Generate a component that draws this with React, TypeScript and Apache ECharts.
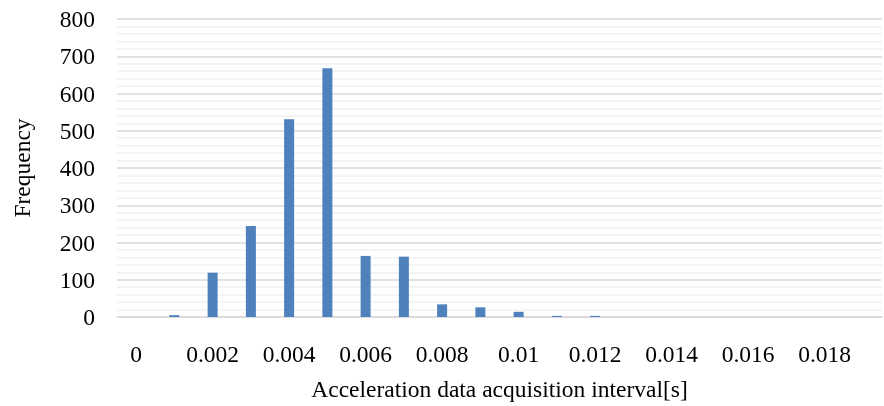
import React, { useEffect, useRef } from "react";
import * as echarts from "echarts";

const categories = [
  "0", "0.001", "0.002", "0.003", "0.004", "0.005", "0.006", "0.007", "0.008", "0.009",
  "0.01", "0.011", "0.012", "0.013", "0.014", "0.015", "0.016", "0.017", "0.018", "0.019",
];
const frequency = [0, 5, 119, 244, 531, 668, 164, 162, 34, 26, 14, 3, 3, 0, 0, 0, 0, 0, 0, 0];

const FONT = "'Liberation Serif', 'Times New Roman', serif";
const FS = 23.5;

export default function App() {
  const ref = useRef<HTMLDivElement>(null);
  useEffect(() => {
    if (!ref.current) return;
    const chart = echarts.init(ref.current, undefined, { renderer: "svg" });
    chart.setOption({
      animation: false,
      grid: { left: 117, right: 2, top: 19, bottom: 84 },
      xAxis: {
        type: "category",
        data: categories,
        boundaryGap: true,
        name: "Acceleration data acquisition interval[s]",
        nameLocation: "middle",
        nameGap: 60,
        nameTextStyle: { fontFamily: FONT, fontSize: FS, color: "#000" },
        axisLine: { show: true, lineStyle: { color: "#d9d9d9", width: 1.5 } },
        axisTick: { show: false },
        axisLabel: {
          interval: 1,
          fontFamily: FONT,
          fontSize: FS,
          color: "#000",
          margin: 25,
        },
      },
      yAxis: {
        type: "value",
        min: 0,
        max: 800,
        interval: 100,
        name: "Frequency",
        nameLocation: "middle",
        nameGap: 83,
        nameTextStyle: { fontFamily: FONT, fontSize: FS, color: "#000" },
        axisLine: { show: false },
        axisTick: { show: false },
        axisLabel: { fontFamily: FONT, fontSize: FS, color: "#000", margin: 22 },
        splitLine: { show: true, lineStyle: { color: "#d9d9d9", width: 1.5 } },
        minorTick: { show: false, splitNumber: 5 },
        minorSplitLine: { show: true, lineStyle: { color: "#f0f0f0", width: 1.5 } },
      },
      series: [
        {
          type: "bar",
          data: frequency,
          barWidth: 10,
          itemStyle: { color: "#4f81bd" },
        },
      ],
    });
    return () => chart.dispose();
  }, []);
  return (
    <div
      ref={ref}
      style={{ position: "fixed", left: 0, top: 0, width: 884, height: 406 }}
    />
  );
}
